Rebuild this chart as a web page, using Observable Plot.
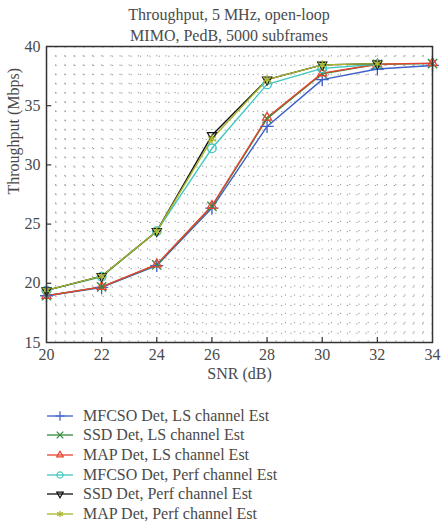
<!DOCTYPE html>
<html>
<head>
<meta charset="utf-8">
<script src="https://cdn.jsdelivr.net/npm/d3@7"></script>
<script src="https://cdn.jsdelivr.net/npm/@observablehq/plot@0.6"></script>
<style>
  body { margin: 0; background: #fff; font-family: "Liberation Serif", serif; color: #4a4a4a; }
  #title { width: 443px; height: 34px; box-sizing: border-box; padding: 4px 0 0 0; text-align: center;
           font-size: 16px; line-height: 21px; }
  #title div { width: 458px; }
  #legend { padding: 12px 0 0 47px; font-size: 16px; }
  .row { display: flex; align-items: center; height: 19.6px; }
  .row svg { margin-right: 9px; }
</style>
</head>
<body>
<div id="title"><div>Throughput, 5 MHz, open-loop</div><div>MIMO, PedB, 5000 subframes</div></div>
<div id="chart"></div>
<div id="legend"></div>
<script>
// SNR points (dB)
const snr = [20, 22, 24, 26, 28, 30, 32, 34];

// Throughput (Mbps) with LS channel estimation
const mfcsoLS = [18.95, 19.65, 21.5, 26.35, 33.25, 37.2, 38.1, 38.4];
const ssdLS   = [18.95, 19.7, 21.55, 26.5, 33.9, 37.7, 38.5, 38.55];
const mapLS   = [18.95, 19.7, 21.6, 26.55, 34.0, 37.75, 38.5, 38.6];

// Throughput (Mbps) with perfect channel knowledge (run up to 32 dB)
const mfcsoPerf = [19.4, 20.55, 24.4, 31.4, 36.8, 38.15, 38.5];
const ssdPerf   = [19.4, 20.6, 24.4, 32.5, 37.2, 38.45, 38.55];
const mapPerf   = [19.4, 20.6, 24.4, 32.2, 37.2, 38.45, 38.55];

const seriesNames = [
  "MFCSO Det, LS channel Est",
  "SSD Det, LS channel Est",
  "MAP Det, LS channel Est",
  "MFCSO Det, Perf channel Est",
  "SSD Det, Perf channel Est",
  "MAP Det, Perf channel Est"
];
const seriesValues = [mfcsoLS, ssdLS, mapLS, mfcsoPerf, ssdPerf, mapPerf];
const seriesColors = ["#3d5fc8", "#2f8a3c", "#e8432f", "#3fc7bf", "#111111", "#a9b52a"];

// Axis ticks
const xTicks = [20, 22, 24, 26, 28, 30, 32, 34];
const yTicks = [15, 20, 25, 30, 35, 40];

// Downward-pointing open triangle
const triangleDown = {
  draw(context, size) {
    const s = Math.sqrt(size) * 0.6824, t = s / 2, u = s * Math.sqrt(3) / 2;
    context.moveTo(0, s);
    context.lineTo(u, -t);
    context.lineTo(-u, -t);
    context.closePath();
  }
};
const seriesSymbols = ["plus", "times", "triangle2", "circle", triangleDown, "asterisk"];
const d3Symbols = [d3.symbolPlus, d3.symbolTimes, d3.symbolTriangle2, d3.symbolCircle, triangleDown, d3.symbolAsterisk];

const rows = seriesNames.flatMap((name, i) =>
  seriesValues[i].map((v, j) => ({series: name, idx: i, snr: snr[j], thr: v})));

const font = "Liberation Serif, serif";

const chart = Plot.plot({
  width: 443,
  height: 360,
  marginTop: 12,
  marginLeft: 46,
  marginRight: 11,
  marginBottom: 52,
  style: {fontFamily: font, fontSize: "15px", color: "#4a4a4a", background: "#fff"},
  x: {domain: [20, 34]},
  y: {domain: [15, 40]},
  marks: [
    // dotted background grid
    Plot.gridX({ticks: d3.range(20 + 1/3, 34, 1/3), stroke: "#666", strokeOpacity: 0.7, strokeDasharray: "1.2,8"}),
    Plot.gridY({ticks: d3.range(15.78, 40, 0.78), stroke: "#666", strokeOpacity: 0.7, strokeDasharray: "1.2,8.2"}),
    // lines and markers
    ...seriesNames.map((name, i) =>
      Plot.line(rows.filter(d => d.idx === i), {x: "snr", y: "thr", stroke: seriesColors[i], strokeWidth: 1.4})),
    ...seriesNames.map((name, i) =>
      Plot.dot(rows.filter(d => d.idx === i), {x: "snr", y: "thr", stroke: seriesColors[i], symbol: () => seriesSymbols[i], r: 4.3, strokeWidth: 1.3})),
    // inward tick marks
    Plot.ruleX(xTicks.slice(1, -1), {y1: 15, y2: 15.42, stroke: "#333", strokeWidth: 1.2}),
    Plot.ruleY(yTicks.slice(1, -1), {x1: 20, x2: 20.19, stroke: "#333", strokeWidth: 1.2}),
    Plot.frame({stroke: "#333", strokeWidth: 1.5}),
    Plot.axisX({ticks: xTicks, tickSize: 0, tickPadding: 6, label: null, fill: "#4a4a4a", fontSize: 16}),
    Plot.axisY({ticks: yTicks, tickSize: 0, tickPadding: 6, label: null, fill: "#4a4a4a", fontSize: 16}),
    Plot.text(["SNR (dB)"], {frameAnchor: "bottom", dy: 36, fill: "#4a4a4a", fontSize: 16}),
    Plot.text(["Throughput (Mbps)"], {frameAnchor: "left", dx: -33, rotate: -90, fill: "#4a4a4a", fontSize: 16})
  ]
});
document.getElementById("chart").append(chart);

// Legend: line sample with marker, then series name
const legend = d3.select("#legend");
seriesNames.forEach((name, i) => {
  const row = legend.append("div").attr("class", "row");
  const svg = row.append("svg").attr("width", 27).attr("height", 16);
  svg.append("line").attr("x1", 0).attr("x2", 26).attr("y1", 8).attr("y2", 8)
    .attr("stroke", seriesColors[i]).attr("stroke-width", 1.3);
  svg.append("path").attr("transform", "translate(13,8)")
    .attr("d", d3.symbol(d3Symbols[i], Math.PI * 3.1 * 3.1)())
    .attr("fill", "none").attr("stroke", seriesColors[i]).attr("stroke-width", 1.2);
  row.append("span").text(name);
});
</script>
</body>
</html>
